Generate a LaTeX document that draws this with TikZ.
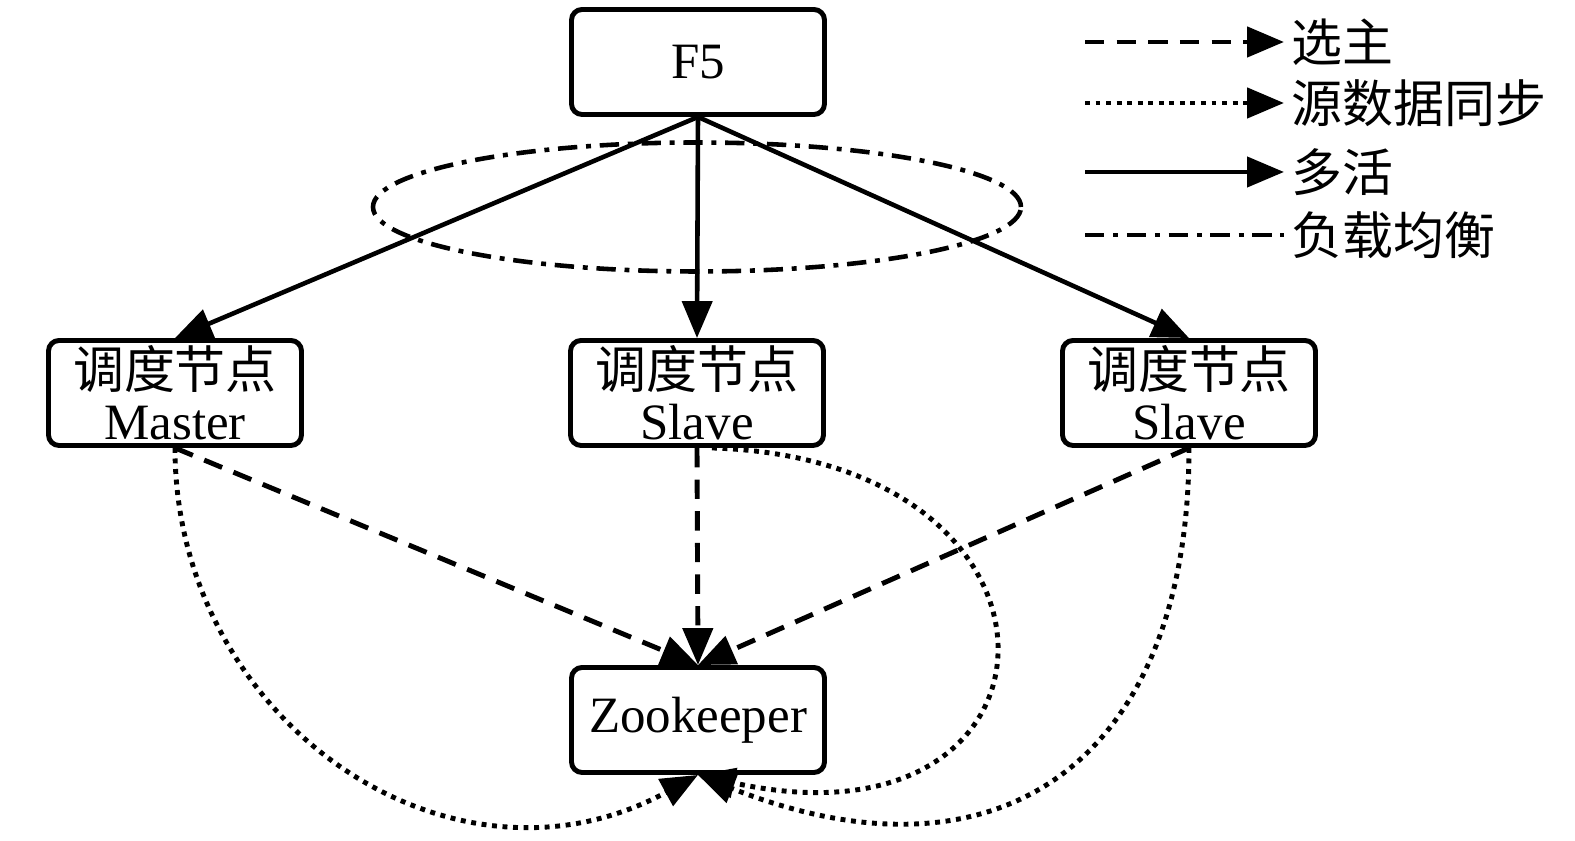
\documentclass[tikz,border=0pt]{standalone}
\usepackage{fontspec}
\setmainfont{Liberation Serif}
\newfontfamily\cjk{Noto Sans CJK SC}
\usepackage{tikz}
\usetikzlibrary{arrows.meta,positioning,calc,shapes.geometric}

\begin{document}
\begin{tikzpicture}[
  n/.style={rectangle,draw,line width=1.4pt,rounded corners=3pt,minimum width=2.53cm,minimum height=1.05cm,font=\fontsize{14.5pt}{14.5pt}\selectfont,align=center,inner sep=1pt},
  tip/.style={-{Triangle[length=10.5pt,width=8.5pt]}},
  xuan/.style={tip,line width=1.4pt,dash pattern=on 5.5pt off 3.5pt},
  tongbu/.style={tip,line width=1.4pt,dash pattern=on 1.4pt off 1.6pt},
  duohuo/.style={tip,line width=1.3pt},
  fuzai/.style={line width=1.3pt,dash pattern=on 5.5pt off 2.5pt on 1.4pt off 2.5pt},
  lg/.style={anchor=west,font=\fontsize{14.5pt}{14.5pt}\selectfont\cjk,inner sep=2pt}
]
  \useasboundingbox (0,0) rectangle (15.75,-8.41);
  \node[n] (f5) at (6.98,-0.62) {F5};
  \node[n] (m) at (1.75,-3.93) {{\cjk 调度节点}\\Master};
  \node[n] (s1) at (6.97,-3.93) {{\cjk 调度节点}\\Slave};
  \node[n] (s2) at (11.89,-3.93) {{\cjk 调度节点}\\Slave};
  \node[n] (z) at (6.98,-7.20) {Zookeeper};
  \node[ellipse,draw,fuzai,minimum width=6.48cm,minimum height=1.29cm] (lb) at (6.97,-2.07) {};
  % 多活
  \draw[duohuo] (f5.south)--(m.north);
  \draw[duohuo] (f5.south)--(s1.north);
  \draw[duohuo] (f5.south)--(s2.north);
  % 选主
  \draw[xuan] (m.south)--(z.north);
  \draw[xuan] (s1.south)--(z.north);
  \draw[xuan] (s2.south)--(z.north);
  % 源数据同步
  \draw[tongbu] (m.south) .. controls (1.75,-7.2) and (4.5,-9.1) .. (z.south);
  \draw[tongbu] ($(s1.south)+(0.15,0)$) .. controls (11.0,-4.6) and (10.8,-8.6) .. (z.south);
  \draw[tongbu] (s2.south) .. controls (11.89,-7.6) and (10.0,-8.95) .. (z.south);
  % legend
  \coordinate (c1) at (10.85,-0.42);
  \coordinate (c2) at (10.85,-1.03);
  \coordinate (c3) at (10.85,-1.72);
  \coordinate (c4) at (10.85,-2.35);
  \node[lg] (t1) at (12.84,-0.42) {选主};
  \node[lg] (t2) at (12.84,-1.03) {源数据同步};
  \node[lg] (t3) at (12.84,-1.72) {多活};
  \node[lg] (t4) at (12.84,-2.35) {负载均衡};
  \draw[xuan] (c1)--(t1.west);
  \draw[tongbu] (c2)--(t2.west);
  \draw[duohuo] (c3)--(t3.west);
  \draw[fuzai] (c4)--(t4.west);
\end{tikzpicture}
\end{document}
